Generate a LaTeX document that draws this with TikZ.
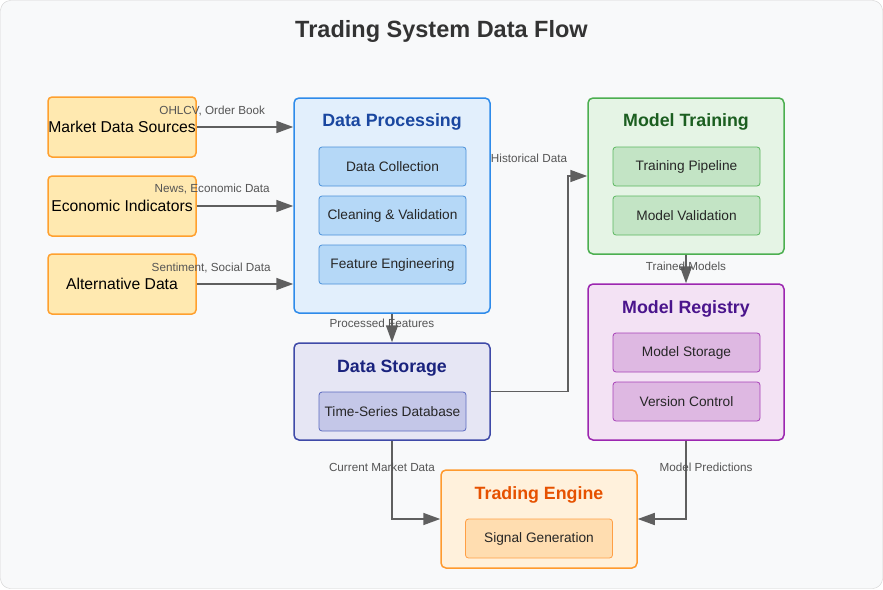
\documentclass[tikz,border=0pt]{standalone}
\usepackage{fontspec}
\setmainfont{Liberation Sans}
\usetikzlibrary{arrows.meta}

\definecolor{bgc}{HTML}{F8F9FA}
\definecolor{srcfill}{HTML}{FFE9B0}
\definecolor{srcline}{HTML}{FFA02E}
\definecolor{dpfill}{HTML}{E2EFFC}
\definecolor{dpline}{HTML}{2E8BEA}
\definecolor{dpin}{HTML}{B5D8F7}
\definecolor{dpinline}{HTML}{4A90D9}
\definecolor{dptext}{HTML}{1A47A0}
\definecolor{dsfill}{HTML}{E6E6F4}
\definecolor{dsline}{HTML}{3F4AA8}
\definecolor{dsin}{HTML}{C4C7E8}
\definecolor{dsinline}{HTML}{5C6BC0}
\definecolor{dstext}{HTML}{1A237E}
\definecolor{mtfill}{HTML}{E5F4E5}
\definecolor{mtline}{HTML}{4CAF50}
\definecolor{mtin}{HTML}{C3E4C5}
\definecolor{mtinline}{HTML}{5CB860}
\definecolor{mttext}{HTML}{1B5E20}
\definecolor{mrfill}{HTML}{F3E2F4}
\definecolor{mrline}{HTML}{9C27B0}
\definecolor{mrin}{HTML}{DEB8E2}
\definecolor{mrinline}{HTML}{A842B8}
\definecolor{mrtext}{HTML}{4A148C}
\definecolor{tefill}{HTML}{FFF1DC}
\definecolor{teline}{HTML}{FF9A2E}
\definecolor{tein}{HTML}{FFDDB0}
\definecolor{teinline}{HTML}{FF9F45}
\definecolor{tetext}{HTML}{E65100}
\definecolor{flow}{HTML}{5F5F5F}
\definecolor{lbl}{HTML}{555555}

\begin{document}
\begin{tikzpicture}[x=1pt, y=-1pt,
    source/.style={draw=srcline, fill=srcfill, line width=1.5pt, rounded corners=4pt,
        minimum width=148pt, minimum height=60pt, inner sep=0pt, font=\fontsize{15.7}{18}\selectfont},
    group/.style={line width=1.5pt, rounded corners=5pt, inner sep=0pt, minimum width=196pt},
    item/.style={line width=0.8pt, rounded corners=3pt, inner sep=0pt,
        minimum width=147pt, minimum height=39pt, font=\fontsize{13.7}{16}\selectfont, text=black!85},
    heading/.style={font=\fontsize{17.8}{21}\selectfont\bfseries},
    flowline/.style={draw=flow, line width=1.6pt, -{Triangle[length=17pt, width=12pt]}},
    flowlabel/.style={font=\fontsize{11.7}{14}\selectfont, text=lbl, inner sep=1pt}]

    % Fundo
    \useasboundingbox (0,0) rectangle (883,589);
    \fill[white] (0,0) rectangle (883,589);
    \draw[fill=bgc, draw=black!18, rounded corners=10pt] (0.5,0.5) rectangle (882.5,588.5);
    \node[font=\fontsize{23.5}{28}\selectfont\bfseries, text=black!80] (title) at (441.5,31) {Trading System Data Flow};

    % Fontes de dados
    \node[source] (market) at (122,127) {Market Data Sources};
    \node[source] (econ) at (122,206) {Economic Indicators};
    \node[source] (alt) at (122,284) {Alternative Data};

    % Data Processing
    \node[group, draw=dpline, fill=dpfill, minimum height=215pt] (dp) at (392,205.5) {};
    \node[heading, text=dptext] (dptitle) at (392,122) {Data Processing};
    \node[item, draw=dpinline, fill=dpin] (collect) at (392.5,166.5) {Data Collection};
    \node[item, draw=dpinline, fill=dpin] (clean) at (392.5,215.5) {Cleaning \& Validation};
    \node[item, draw=dpinline, fill=dpin] (feature) at (392.5,264.5) {Feature Engineering};

    % Data Storage
    \node[group, draw=dsline, fill=dsfill, minimum height=97pt] (ds) at (392,391.5) {};
    \node[heading, text=dstext] (dstitle) at (392,368) {Data Storage};
    \node[item, draw=dsinline, fill=dsin] (tsdb) at (392.5,411.5) {Time-Series Database};

    % Model Training
    \node[group, draw=mtline, fill=mtfill, minimum height=156pt] (mt) at (686,176) {};
    \node[heading, text=mttext] (mttitle) at (686,122) {Model Training};
    \node[item, draw=mtinline, fill=mtin] (pipeline) at (686.5,166.5) {Training Pipeline};
    \node[item, draw=mtinline, fill=mtin] (mval) at (686.5,215.5) {Model Validation};

    % Model Registry
    \node[group, draw=mrline, fill=mrfill, minimum height=156pt] (mr) at (686,362) {};
    \node[heading, text=mrtext] (mrtitle) at (686,309) {Model Registry};
    \node[item, draw=mrinline, fill=mrin] (mstore) at (686.5,352.5) {Model Storage};
    \node[item, draw=mrinline, fill=mrin] (version) at (686.5,401.5) {Version Control};

    % Trading Engine
    \node[group, draw=teline, fill=tefill, minimum height=98pt] (te) at (539,519) {};
    \node[heading, text=tetext] (tetitle) at (539,495) {Trading Engine};
    \node[item, draw=teinline, fill=tein] (signal) at (539,538.5) {Signal Generation};

    % Ligacoes
    \draw[flowline] (market.east) -- (dp.west |- market.east)
        node[flowlabel, pos=0.16, above=9pt] {OHLCV, Order Book};
    \draw[flowline] (econ.east) -- (dp.west |- econ.east)
        node[flowlabel, pos=0.16, above=10pt] {News, Economic Data};
    \draw[flowline] (alt.east) -- (dp.west |- alt.east)
        node[flowlabel, pos=0.15, above=9pt] {Sentiment, Social Data};
    \draw[flowline] (dp.south) -- (ds.north)
        node[flowlabel, pos=0.35, xshift=-10pt] {Processed Features};
    \draw[flowline] (ds.east) -- (568,391.5) |- (mt.west);
    \node[flowlabel] (histlabel) at (529,158) {Historical Data};
    \draw[flowline] (mt.south) -- (mr.north)
        node[flowlabel, pos=0.4] {Trained Models};
    \draw[flowline] (ds.south) |- (te.west)
        node[flowlabel, pos=0.17, xshift=-10pt] {Current Market Data};
    \draw[flowline] (mr.south) |- (te.east)
        node[flowlabel, pos=0.17, xshift=20pt] {Model Predictions};
\end{tikzpicture}
\end{document}
